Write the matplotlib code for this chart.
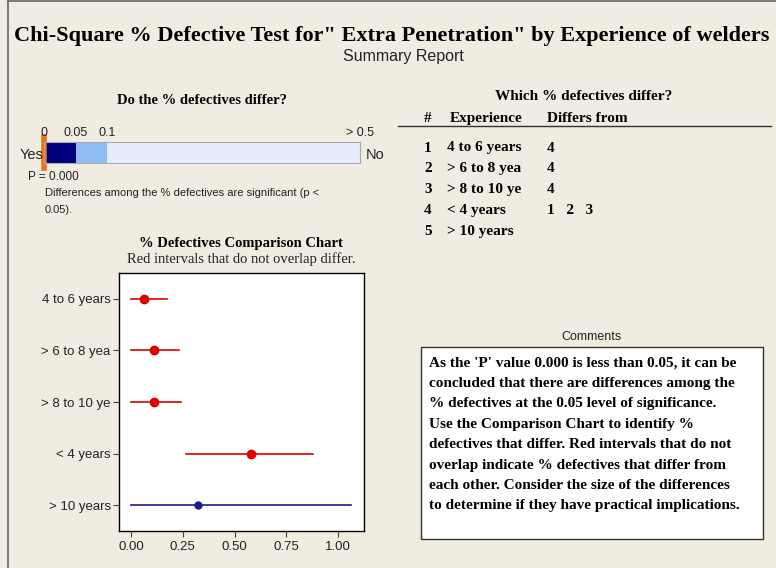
import numpy as np
import matplotlib.pyplot as plt
from matplotlib.patches import Rectangle
from matplotlib.lines import Line2D

# experience groups and their % defective estimates with intervals
groups = ["4 to 6 years", "> 6 to 8 yea", "> 8 to 10 ye", "< 4 years", "> 10 years"]
pct = [0.064, 0.112, 0.112, 0.580, 0.322]
lower = [0.0, 0.0, 0.0, 0.266, 0.0]
upper = [0.176, 0.234, 0.242, 0.878, 1.062]
differs = [True, True, True, True, False]

# p-value bar
p_value = 0.000
p_breaks = [0.0, 0.05, 0.1, 0.5]
p_colors = ["#00007F", "#8EBDF5", "#E6EEFB"]
p_ticklabels = ["0", "0.05", "0.1", "> 0.5"]

# comparison table
table_nums = ["1", "2", "3", "4", "5"]
table_diff = ["4", "4", "4", "1   2   3", ""]

comments = [
    "As the 'P' value 0.000 is less than 0.05, it can be",
    "concluded that there are differences among the",
    "% defectives at the 0.05 level of significance.",
    "Use the Comparison Chart to identify %",
    "defectives that differ. Red intervals that do not",
    "overlap indicate % defectives that differ from",
    "each other. Consider the size of the differences",
    "to determine if they have practical implications.",
]

BG = "#F0ECE2"
RED = "#E00000"
NAVY = "#1C1C8A"
W, H = 776, 568
SERIF = "Liberation Serif"
SANS = "Liberation Sans"

fig = plt.figure(figsize=(W / 100, H / 100), dpi=100, facecolor=BG)


def fx(x):
    return x / W


def fy(y):
    return 1 - y / H


def axes_px(x0, y0, x1, y1):
    return fig.add_axes([fx(x0), fy(y1), (x1 - x0) / W, (y1 - y0) / H])


def txt(x, y, s, **kw):
    kw.setdefault("va", "center")
    fig.text(fx(x), fy(y), s, **kw)


# frame lines
fig.add_artist(Line2D([fx(8), fx(8)], [0, 1], color="#666666", lw=1.2))
fig.add_artist(Line2D([fx(8), 1], [fy(1), fy(1)], color="#666666", lw=1.2))

# titles
txt(392, 36, "Chi-Square % Defective Test for\" Extra Penetration\" by Experience of welders",
    ha="center", family=SERIF, weight="bold", fontsize=16)
txt(403, 56, "Summary Report", ha="center", family=SANS, fontsize=11.5, color="#222222")

# p-value bar
txt(202, 101, "Do the % defectives differ?", ha="center", family=SERIF, weight="bold", fontsize=10.5)
bax = axes_px(44, 142, 360, 163)
for i, c in enumerate(p_colors):
    bax.barh(0, p_breaks[i + 1] - p_breaks[i], left=p_breaks[i], height=1, color=c, edgecolor="none")
bax.set_xlim(p_breaks[0], p_breaks[-1])
bax.set_ylim(-0.5, 0.5)
bax.set_xticks([])
bax.set_yticks([])
for sp in bax.spines.values():
    sp.set_color("#AAAAAA")
bax.axvline(p_value, ymin=-0.25, ymax=1.25, color="#E8741C", lw=4, clip_on=False)
for b, lab in zip(p_breaks, p_ticklabels):
    bax.annotate(lab, (b, 1), xycoords=("data", "axes fraction"), xytext=(0, 6.5),
                 textcoords="offset points", ha="center", va="center",
                 family=SANS, fontsize=9, color="#222222")
txt(43, 155, "Yes", ha="right", family=SANS, fontsize=10.5, color="#222222")
txt(366, 155, "No", ha="left", family=SANS, fontsize=10.5, color="#222222")
txt(28, 177, "P = 0.000", ha="left", family=SANS, fontsize=8.5, color="#222222")
txt(45, 193, "Differences among the % defectives are significant (p <", ha="left",
    family=SANS, fontsize=8, color="#222222")
txt(45, 210, "0.05).", ha="left", family=SANS, fontsize=8, color="#222222")

# comparison chart
txt(241, 243, "% Defectives Comparison Chart", ha="center", family=SERIF, weight="bold", fontsize=10.5)
txt(241, 259, "Red intervals that do not overlap differ.", ha="center", family=SERIF, fontsize=10.5,
    color="#222222")
ax = axes_px(119, 273, 364, 531)
ax.set_facecolor("white")
y = np.arange(len(groups))
for yi, p, lo, hi, d in zip(y, pct, lower, upper, differs):
    col = RED if d else NAVY
    ax.plot([lo, hi], [yi, yi], color=col, lw=1.2)
    ax.plot(p, yi, "o", color=col, ms=6 if d else 5)
ax.set_yticks(y)
ax.set_yticklabels(groups)
ax.set_ylim(len(groups) - 0.5, -0.5)
ax.set_xlim(-0.058, 1.125)
ax.set_xticks([0, 0.25, 0.5, 0.75, 1.0])
ax.set_xticklabels(["0.00", "0.25", "0.50", "0.75", "1.00"])
ax.tick_params(length=4, width=0.8, color="#444444", labelsize=9.5, labelcolor="#222222")
ax.tick_params(axis="y", pad=2)
for lab in ax.get_xticklabels() + ax.get_yticklabels():
    lab.set_family(SANS)
for sp in ax.spines.values():
    sp.set_color("black")
    sp.set_linewidth(1)

# which groups differ
txt(584, 96, "Which % defectives differ?", ha="center", family=SERIF, weight="bold", fontsize=11)
txt(424, 118, "#", ha="left", family=SERIF, weight="bold", fontsize=11)
txt(450, 118, "Experience", ha="left", family=SERIF, weight="bold", fontsize=11)
txt(547, 118, "Differs from", ha="left", family=SERIF, weight="bold", fontsize=11)
fig.add_artist(Line2D([fx(398), fx(771)], [fy(126), fy(126)], color="#333333", lw=1))
for i, (n, g, d) in enumerate(zip(table_nums, groups, table_diff)):
    yy = 148 + i * 20.8
    txt(424, yy, n, ha="left", family=SERIF, weight="bold", fontsize=11)
    txt(447, yy, g, ha="left", family=SERIF, weight="bold", fontsize=11)
    txt(547, yy, d, ha="left", family=SERIF, weight="bold", fontsize=11)

# comments box
txt(591, 337, "Comments", ha="center", family=SANS, fontsize=9, color="#222222")
fig.add_artist(Rectangle((fx(421), fy(539)), (763 - 421) / W, (539 - 347) / H,
                         transform=fig.transFigure, facecolor="white", edgecolor="#333333", lw=1))
for i, line in enumerate(comments):
    txt(429, 363 + i * 20.4, line, ha="left", family=SERIF, weight="bold", fontsize=11)

fig.savefig("out.png", dpi=100, facecolor=BG)
